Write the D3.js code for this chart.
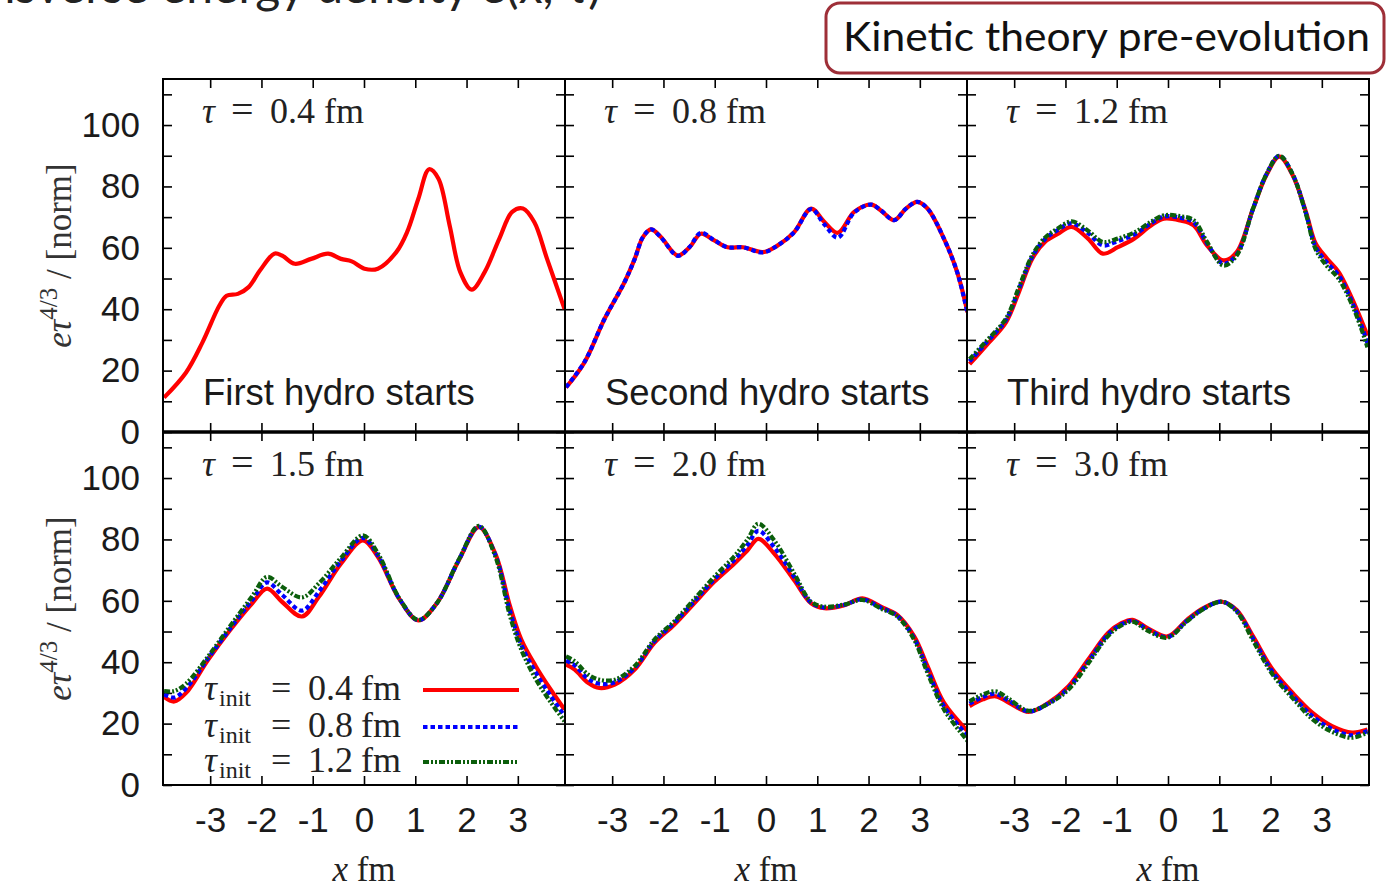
<!DOCTYPE html>
<html><head><meta charset="utf-8">
<script src="https://cdn.jsdelivr.net/npm/d3@7"></script>
<style>body{margin:0;background:#fff}svg{display:block}</style>
</head><body>
<svg id="c" width="1387" height="889"></svg>
<script>
// ---------- data ----------
const xTickValues = [-3, -2, -1, 0, 1, 2, 3];
const yTickValues = [0, 20, 40, 60, 80, 100];
const yMinorValues = [0, 10, 20, 30, 40, 50, 60, 70, 80, 90, 100, 110];
const panelTaus = ["0.4", "0.8", "1.2", "1.5", "2.0", "3.0"];
const hydroLabels = ["First hydro starts", "Second hydro starts", "Third hydro starts"];
const legendTaus = ["0.4", "0.8", "1.2"];

// panel 1: tau = 0.4 fm
const x1 = [-3.90,-3.47,-3.15,-2.82,-2.68,-2.46,-2.25,-2.03,-1.75,-1.60,-1.35,-1.03,-0.70,-0.45,-0.24,0.01,0.27,0.63,0.84,1.06,1.27,1.45,1.67,1.88,2.10,2.35,2.64,2.89,3.10,3.32,3.57,3.91];
const red1 = [11.2,19.4,29.2,41.2,44.4,45.0,47.2,52.6,58.1,57.5,54.8,56.4,58.1,56.4,55.6,53.2,53.2,58.6,65.1,76.0,85.6,82.6,67.3,52.0,46.4,52.0,63.0,71.7,72.8,68.4,56.4,40.1];

// panel 2: tau = 0.8 fm
const x2 = [-3.90,-3.54,-3.15,-2.76,-2.56,-2.40,-2.24,-2.05,-1.72,-1.49,-1.27,-1.01,-0.75,-0.45,-0.06,0.23,0.55,0.88,1.14,1.40,1.72,2.05,2.24,2.50,2.73,2.95,3.15,3.47,3.73,3.93];
const red2 = [14.5,22.7,36.8,48.8,56.4,63.5,66.0,63.5,57.5,60.2,64.6,62.4,60.2,60.2,58.6,60.8,65.1,72.8,68.4,64.9,71.7,74.1,72.2,69.0,72.8,75.0,72.8,63.0,52.0,39.0];
const blue2 = [14.6,22.8,36.8,48.8,56.4,63.5,66.0,63.4,57.4,60.3,64.9,62.5,60.2,60.2,58.5,60.8,65.1,72.6,67.6,63.3,71.5,74.1,72.2,69.0,72.8,75.0,72.8,63.0,52.0,38.8];

// panel 3: tau = 1.2 fm
const x3 = [-3.87,-3.55,-3.16,-2.91,-2.65,-2.40,-2.15,-1.88,-1.56,-1.27,-0.98,-0.66,-0.33,-0.08,0.24,0.50,0.76,1.08,1.34,1.66,1.92,2.17,2.43,2.69,2.88,3.10,3.33,3.65,3.89];
const red3 = [22.1,28.1,35.7,45.5,56.4,61.9,64.5,66.8,63.0,58.1,60.2,63.0,67.3,69.5,68.9,67.3,60.8,55.9,58.6,72.8,83.7,89.7,83.7,71.7,61.4,56.5,52.1,41.2,31.4];
const blue3 = [23.0,29.0,36.5,46.5,57.0,62.8,65.8,68.0,64.8,60.8,62.2,64.3,68.0,70.2,69.8,68.3,61.5,54.8,57.8,72.8,84.0,90.0,84.0,71.3,60.3,55.2,51.0,40.0,29.0];
const green3 = [23.7,29.5,37.0,47.0,57.5,63.3,66.3,68.6,65.6,61.9,63.0,65.0,68.5,70.6,70.3,69.0,62.0,54.2,57.5,72.8,84.0,90.0,84.0,71.0,59.5,54.0,49.9,39.0,27.6];

// panel 4: tau = 1.5 fm
const x4 = [-3.90,-3.70,-3.47,-3.04,-2.61,-2.18,-1.89,-1.60,-1.21,-0.88,-0.45,-0.02,0.27,0.70,1.06,1.42,1.85,2.24,2.56,2.85,3.07,3.35,3.64,3.91];
const red4 = [28.7,27.2,30.0,40.8,50.5,59.2,64.0,59.7,54.9,61.3,72.1,79.7,74.3,60.3,53.6,59.2,73.2,84.0,75.4,58.1,47.3,38.7,31.1,24.6];
const blue4 = [29.5,28.5,31.5,41.3,51.0,60.3,66.0,62.0,56.8,63.0,73.0,80.5,74.8,60.4,53.7,59.2,73.3,84.2,75.0,56.5,45.6,36.6,29.0,22.5];
const green4 = [30.6,30.6,33.0,41.9,51.8,61.5,67.8,64.6,61.1,65.7,74.0,81.3,75.5,60.5,53.8,59.2,73.5,84.4,74.5,54.9,44.0,34.5,27.0,20.8];

// panel 5: tau = 2.0 fm
const x5 = [-3.90,-3.73,-3.47,-3.25,-2.95,-2.56,-2.18,-1.79,-1.40,-1.01,-0.62,-0.36,-0.15,0.16,0.55,0.88,1.14,1.53,1.88,2.24,2.56,2.89,3.15,3.47,3.93];
const red5 = [39.2,37.6,33.3,31.6,32.7,37.6,46.2,52.2,59.2,66.2,72.1,76.5,80.2,75.4,66.7,59.2,57.6,58.6,60.8,58.1,55.4,48.4,38.7,26.8,17.6];
const blue5 = [40.5,39.0,34.6,33.0,33.5,38.2,46.8,52.8,59.8,67.0,73.3,78.3,82.8,77.5,67.8,59.4,57.8,58.7,60.5,57.8,55.1,47.8,37.6,25.7,16.0];
const green5 = [41.9,40.3,36.0,34.3,34.3,38.8,47.3,53.3,60.5,67.8,74.5,80.0,85.1,79.7,68.9,59.7,58.1,58.8,60.3,57.5,54.9,47.3,36.5,24.6,14.4];

// panel 6: tau = 3.0 fm
const x6 = [-3.87,-3.61,-3.36,-3.10,-2.72,-2.33,-1.94,-1.56,-1.17,-0.91,-0.69,-0.40,-0.01,0.37,0.69,1.05,1.34,1.66,2.04,2.43,2.82,3.20,3.59,3.89];
const red6 = [25.7,27.9,28.9,26.8,23.8,26.8,32.2,40.8,49.5,52.7,53.8,51.1,48.4,53.8,57.6,59.7,57.0,48.4,37.6,30.0,23.5,19.2,17.1,18.1];
const blue6 = [26.5,28.7,29.7,27.4,24.0,26.6,31.6,40.1,49.0,52.3,53.5,50.7,48.2,53.5,57.4,59.7,56.7,47.7,36.8,29.1,22.4,18.2,16.2,17.6];
const green6 = [27.3,29.5,30.5,28.0,24.2,26.5,31.1,39.5,48.5,52.0,53.2,50.3,48.0,53.3,57.3,59.7,56.5,47.0,36.0,28.3,21.4,17.3,15.4,17.1];

// ---------- layout ----------
const L = 163, T = 79, PW = 402, PH = 353, TK = 9;
const xDomain = [-3.92, 3.92], yDomain = [0, 115];
const SANS = "'Liberation Sans', Arial, sans-serif";
const SERIF = "'Liberation Serif', 'Times New Roman', serif";

const styles = {
  red:   {stroke: "#ff0000", width: 4.2, dash: null},
  blue:  {stroke: "#0000ff", width: 4.2, dash: "4.5,3"},
  green: {stroke: "#0b5e0b", width: 4.2, dash: "6,2,2,2,2,2"}
};

const panels = [
  {xs: x1, series: {red: red1}},
  {xs: x2, series: {red: red2, blue: blue2}},
  {xs: x3, series: {red: red3, blue: blue3, green: green3}},
  {xs: x4, series: {red: red4, blue: blue4, green: green4}},
  {xs: x5, series: {red: red5, blue: blue5, green: green5}},
  {xs: x6, series: {red: red6, blue: blue6, green: green6}}
];

const svg = d3.select("#c");
svg.append("rect").attr("width", 1387).attr("height", 889).attr("fill", "#fff");

// cut-off slide title at top-left (only its lower edge is inside the picture)
svg.append("text").attr("x", 601).attr("y", 3).attr("text-anchor", "end")
  .attr("font-family", "Lato, sans-serif").attr("font-size", 48).attr("fill", "#222")
  .text("Transverse energy density e(x, τ)");

// boxed title
svg.append("rect").attr("x", 826).attr("y", 3).attr("width", 558).attr("height", 70)
  .attr("rx", 14).attr("fill", "#fff").attr("stroke", "#9e2f38").attr("stroke-width", 3);
svg.append("text").attr("x", 843).attr("y", 51).attr("font-family", "Lato, sans-serif")
  .attr("font-size", 41).attr("fill", "#111").attr("textLength", 527).attr("lengthAdjust", "spacingAndGlyphs")
  .text("Kinetic theory pre-evolution");

const defs = svg.append("defs");

panels.forEach((p, i) => {
  const col = i % 3, row = Math.floor(i / 3);
  const x0 = L + col * PW, y0 = T + row * PH;
  const x = d3.scaleLinear().domain(xDomain).range([x0, x0 + PW]);
  const y = d3.scaleLinear().domain(yDomain).range([y0 + PH, y0]);

  defs.append("clipPath").attr("id", "clip" + i).append("rect")
    .attr("x", x0).attr("y", y0).attr("width", PW).attr("height", PH);

  const styleAxis = g => {
    g.select(".domain").remove();
    g.selectAll(".tick line").attr("stroke", "#000").attr("stroke-width", 1.6);
    g.selectAll("text").attr("font-family", SANS).attr("font-size", 35).attr("fill", "#1a1a1a");
  };

  svg.append("g").attr("transform", `translate(0,${y0 + PH})`)
    .call(d3.axisBottom(x).tickValues(xTickValues).tickSize(-TK).tickPadding(22)
      .tickFormat(d => row === 1 ? String(d) : ""))
    .call(styleAxis);
  svg.append("g").attr("transform", `translate(0,${y0})`)
    .call(d3.axisTop(x).tickValues(xTickValues).tickSize(-TK).tickFormat(""))
    .call(styleAxis);
  svg.append("g").attr("transform", `translate(${x0},0)`)
    .call(d3.axisLeft(y).tickValues(yMinorValues).tickSize(-TK).tickPadding(23)
      .tickFormat(d => (col === 0 && yTickValues.includes(d)) ? String(d) : ""))
    .call(styleAxis);
  svg.append("g").attr("transform", `translate(${x0 + PW},0)`)
    .call(d3.axisRight(y).tickValues(yMinorValues).tickSize(-TK).tickFormat(""))
    .call(styleAxis);

  // curves
  const line = d3.line().x((d, k) => x(p.xs[k])).y(d => y(d)).curve(d3.curveCatmullRom.alpha(0.5));
  const g = svg.append("g").attr("clip-path", `url(#clip${i})`);
  ["red", "blue", "green"].forEach(k => {
    if (!p.series[k]) return;
    const s = styles[k];
    g.append("path").attr("d", line(p.series[k])).attr("fill", "none")
      .attr("stroke", s.stroke).attr("stroke-width", s.width)
      .attr("stroke-dasharray", s.dash).attr("stroke-linejoin", "round");
  });

  // frame
  svg.append("rect").attr("x", x0).attr("y", y0).attr("width", PW).attr("height", PH)
    .attr("fill", "none").attr("stroke", "#000").attr("stroke-width", 2);

  // tau annotation: tau = value fm
  const ty = y0 + 44;
  const ta = svg.append("text").attr("y", ty)
    .attr("font-family", SERIF).attr("font-size", 36).attr("fill", "#222");
  ta.append("tspan").attr("x", x0 + 39).attr("font-style", "italic").text("τ");
  ta.append("tspan").attr("x", x0 + 68).attr("font-size", 40).text("=");
  ta.append("tspan").attr("x", x0 + 107).text(panelTaus[i]);
  ta.append("tspan").attr("x", x0 + 161).text("fm");

  if (row === 0) {
    svg.append("text").attr("x", x0 + 40).attr("y", y0 + 326)
      .attr("font-family", SANS).attr("font-size", 36.5).attr("fill", "#1a1a1a")
      .text(hydroLabels[col]);
  }

  if (row === 1) {
    const xl = svg.append("text").attr("x", x0 + PW / 2).attr("y", 881).attr("text-anchor", "middle")
      .attr("font-family", SERIF).attr("font-size", 35).attr("fill", "#222");
    xl.append("tspan").attr("font-style", "italic").text("x");
    xl.append("tspan").text(" fm");
  }

  if (col === 0) {
    const yl = svg.append("text")
      .attr("transform", `translate(71,${y0 + PH / 2}) rotate(-90)`)
      .attr("text-anchor", "middle").attr("font-family", SERIF).attr("font-size", 35).attr("fill", "#333");
    yl.append("tspan").attr("font-style", "italic").text("eτ");
    yl.append("tspan").attr("font-size", 25).attr("dy", -14).text("4/3");
    yl.append("tspan").attr("dy", 14).text(" / [norm]");
  }
});

// middle separator (thicker)
svg.append("line").attr("x1", L).attr("x2", L + 3 * PW).attr("y1", T + PH).attr("y2", T + PH)
  .attr("stroke", "#000").attr("stroke-width", 3.5);

// legend in bottom-left panel
const legY = [700, 737, 772];
const legKeys = ["red", "blue", "green"];
legendTaus.forEach((t, k) => {
  const tx = svg.append("text").attr("y", legY[k])
    .attr("font-family", SERIF).attr("font-size", 34).attr("fill", "#222");
  tx.append("tspan").attr("x", 204).attr("font-style", "italic").attr("font-size", 36).text("τ");
  tx.append("tspan").attr("x", 219).attr("font-size", 24).attr("dy", 6).text("init");
  tx.append("tspan").attr("x", 271).attr("dy", -6).attr("font-size", 36).text("=");
  tx.append("tspan").attr("x", 308).attr("font-size", 36).text(t);
  tx.append("tspan").attr("x", 361).attr("font-size", 36).text("fm");
  const s = styles[legKeys[k]];
  svg.append("line").attr("x1", 423).attr("x2", 519).attr("y1", legY[k] - 10).attr("y2", legY[k] - 10)
    .attr("stroke", s.stroke).attr("stroke-width", s.width).attr("stroke-dasharray", s.dash);
});
</script>
</body></html>
